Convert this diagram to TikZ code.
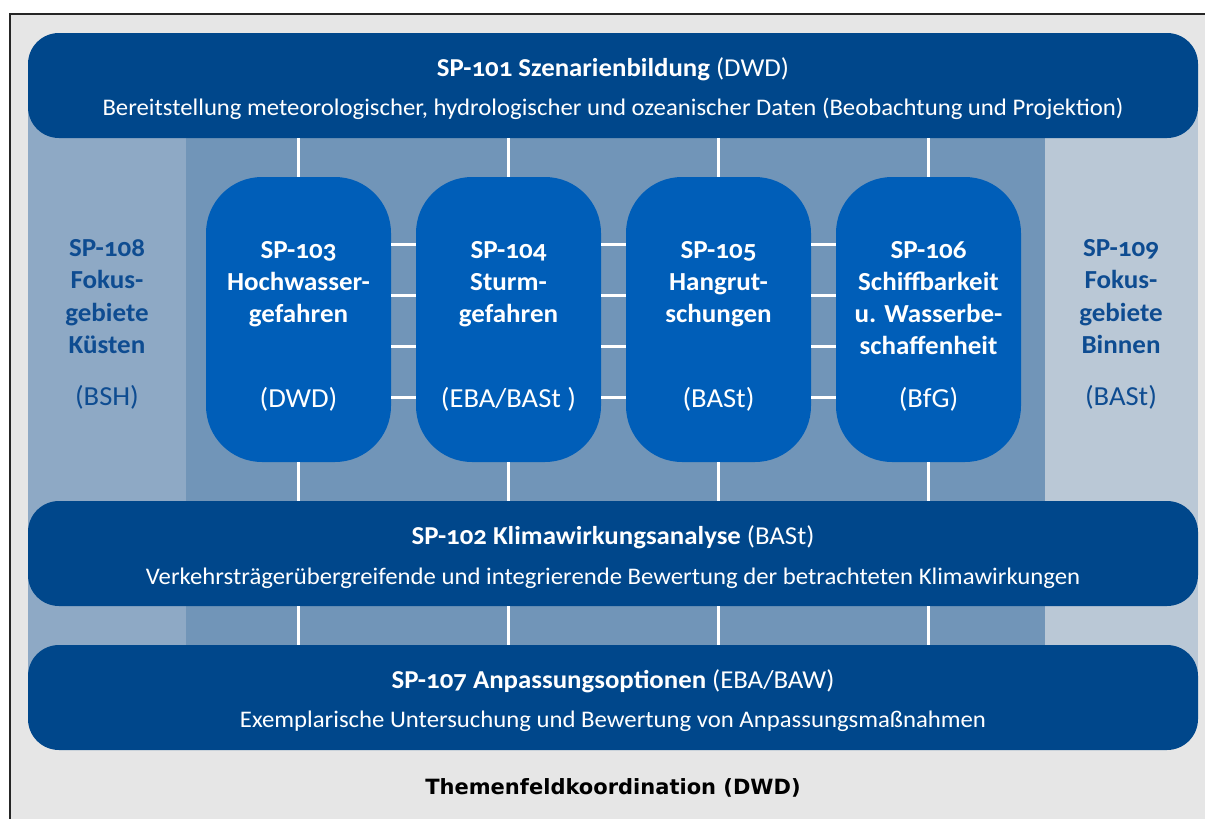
\documentclass[tikz,border=0pt]{standalone}
\usepackage{fontspec}
\setmainfont{Carlito}[Numbers=OldStyle,FakeStretch=1.04]
\newfontfamily\footfont{DejaVu Sans}
\definecolor{bgc}{HTML}{E6E6E6}
\definecolor{darkbox}{HTML}{00478B}
\definecolor{colbox}{HTML}{005EB8}
\definecolor{midpanel}{HTML}{7195B8}
\definecolor{leftpanel}{HTML}{8EA9C5}
\definecolor{rightpanel}{HTML}{BAC8D6}
\definecolor{sidetext}{HTML}{0E4C91}
\tikzset{
  widebox/.style={fill=darkbox, draw=none, rounded corners=31pt, minimum width=1170pt, minimum height=105pt, inner sep=0pt},
  colboxst/.style={fill=colbox, draw=none, rounded corners=56pt, minimum width=185pt, minimum height=285pt, inner sep=0pt},
  wtitle/.style={text=white, font=\fontsize{25.8}{30}\selectfont, inner sep=0pt, anchor=base},
  wsub/.style={text=white, font=\fontsize{23.8}{28}\selectfont, inner sep=0pt, anchor=base},
  coltext/.style={text=white, font=\fontsize{26}{32}\selectfont\bfseries, inner sep=0pt, anchor=base},
  colag/.style={text=white, font=\fontsize{27.5}{30}\selectfont, inner sep=0pt, anchor=base},
  sidet/.style={text=sidetext, font=\fontsize{26}{32}\selectfont\bfseries, inner sep=0pt, anchor=base},
  sideag/.style={text=sidetext, font=\fontsize{27.5}{30}\selectfont, inner sep=0pt, anchor=base},
  conn/.style={draw=white, line width=3pt},
}
\begin{document}
\begin{tikzpicture}[x=1pt,y=-1pt]
\useasboundingbox (0,0) rectangle (1205,819);
\fill[white] (0,0) rectangle (1205,819);
\draw[line width=2pt, draw=black!85, fill=bgc] (10,14) rectangle (1230,840);
% panels
\fill[leftpanel] (28,90) rectangle (186,700);
\fill[midpanel] (186,90) rectangle (1045,700);
\fill[rightpanel] (1045,90) rectangle (1198,700);
% wide boxes
\node[widebox] (sp101) at (613,85.5) {};
\node[widebox] (sp102) at (613,553.5) {};
\node[widebox] (sp107) at (613,697.5) {};
% columns
\node[colboxst] (c103) at (298.5,319.5) {};
\node[colboxst] (c104) at (508.5,319.5) {};
\node[colboxst] (c105) at (718.5,319.5) {};
\node[colboxst] (c106) at (928.5,319.5) {};
% connectors
\foreach \c in {c103,c104,c105,c106}{
  \draw[conn] (\c.north) -- (\c.north |- sp101.south);
  \draw[conn] (\c.south) -- (\c.south |- sp102.north);
  \draw[conn] (\c.south |- sp102.south) -- (\c.south |- sp107.north);
}
\foreach \a/\b in {c103/c104,c104/c105,c105/c106}{
  \foreach \yy in {244,295,346,397}{
    \draw[conn] (\a.east |- 0,\yy) -- (\b.west |- 0,\yy);
  }
}
% texts wide boxes
\node[wtitle] (t101) at (613,76.5) {\textbf{SP-101 Szenarienbildung} (DWD)};
\node[wsub] (s101) at (613,115) {Bereitstellung meteorologischer, hydrologischer und ozeanischer Daten (Beobachtung und Projektion)};
\node[wtitle] (t102) at (613,544.5) {\textbf{SP-102 Klimawirkungsanalyse} (BASt)};
\node[wsub] (s102) at (613,584) {Verkehrsträgerübergreifende und integrierende Bewertung der betrachteten Klimawirkungen};
\node[wtitle] (t107) at (613,688.5) {\textbf{SP-107 Anpassungsoptionen} (EBA/BAW)};
\node[wsub] (s107) at (613,727) {Exemplarische Untersuchung und Bewertung von Anpassungsmaßnahmen};
% column texts
\foreach \t [count=\i from 0] in {SP-103,Hochwasser-,gefahren}
  \node[coltext] (t103-\i) at (298.5,{258+32*\i}) {\t};
\foreach \t [count=\i from 0] in {SP-104,Sturm-,gefahren}
  \node[coltext] (t104-\i) at (508.5,{258+32*\i}) {\t};
\foreach \t [count=\i from 0] in {SP-105,Hangrut-,schungen}
  \node[coltext] (t105-\i) at (718.5,{258+32*\i}) {\t};
\foreach \t [count=\i from 0] in {SP-106,Schiffbarkeit,u. Wasserbe-,schaffenheit}
  \node[coltext] (t106-\i) at (928.5,{258+32*\i}) {\t};
\node[colag] (a103) at (298.5,407) {(DWD)};
\node[colag] (a104) at (508.5,407) {(EBA/BASt )};
\node[colag] (a105) at (718.5,407) {(BASt)};
\node[colag] (a106) at (928.5,407) {(BfG)};
% side texts
\foreach \t [count=\i from 0] in {SP-108,Fokus-,gebiete,Küsten}
  \node[sidet] (t108-\i) at (107,{256.5+32.3*\i}) {\t};
\foreach \t [count=\i from 0] in {SP-109,Fokus-,gebiete,Binnen}
  \node[sidet] (t109-\i) at (1121,{256.5+32.3*\i}) {\t};
\node[sideag] (a108) at (107,405) {(BSH)};
\node[sideag] (a109) at (1121,405) {(BASt)};
% footer
\node[text=black, font=\footfont\bfseries\fontsize{21}{24}\selectfont, inner sep=0pt, anchor=base] (foot) at (613,794.5) {Themenfeldkoordination (DWD)};
\end{tikzpicture}
\end{document}
